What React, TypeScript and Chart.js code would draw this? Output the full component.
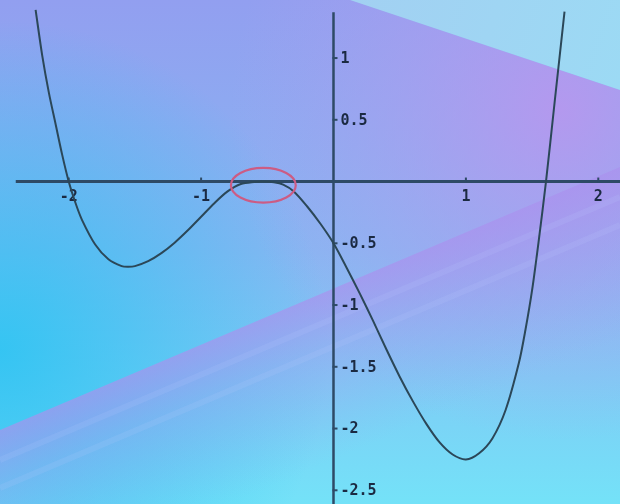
import React, { useEffect, useRef } from "react";
import { Chart, registerables } from "chart.js";

Chart.register(...registerables);

// ---- data ----
const curveX = [
  -2.25, -2.2, -2.15, -2.1, -2.05, -2.0, -1.95, -1.9, -1.8, -1.7, -1.6, -1.55,
  -1.5, -1.4, -1.3, -1.2, -1.1, -1.0, -0.9, -0.8, -0.7, -0.6, -0.53, -0.45,
  -0.38, -0.3, -0.2, -0.1, 0, 0.1, 0.2, 0.3, 0.4, 0.5, 0.6, 0.7, 0.8, 0.9, 1.0,
  1.1, 1.2, 1.3, 1.4, 1.45, 1.5, 1.55, 1.605, 1.67, 1.745,
];
const curveY = [
  1.39, 1.02, 0.72, 0.47, 0.22, 0, -0.17, -0.31, -0.51, -0.63, -0.685, -0.69,
  -0.685, -0.645, -0.58, -0.495, -0.395, -0.285, -0.175, -0.08, -0.02, -0.003,
  0, -0.006, -0.025, -0.08, -0.2, -0.34, -0.5, -0.7, -0.91, -1.13, -1.36,
  -1.58, -1.78, -1.96, -2.11, -2.21, -2.25, -2.2, -2.08, -1.85, -1.47, -1.2,
  -0.88, -0.48, 0, 0.64, 1.375,
];
const xTickValues = [-2, -1, 1, 2];
const xTickLabels = ["-2", "-1", "1", "2"];
const yTickValues = [1, 0.5, -0.5, -1, -1.5, -2, -2.5];
const yTickLabels = ["1", "0.5", "-0.5", "-1", "-1.5", "-2", "-2.5"];
const xRange = [-2.519, 2.164];
const yRange = [-2.611, 1.47];
const xAxisFrom = -2.4;
const yAxisTop = 1.37;
const markCenter = [-0.53, -0.03];
const markRadii = [0.245, 0.14];

const AXIS_COLOR = "#2e4a66";
const CURVE_COLOR = "#2b4758";
const LABEL_COLOR = "#1b2a42";
const LABEL_FONT = "'DejaVu Sans Mono', monospace";

const backgroundPlugin = {
  id: "slideBackground",
  beforeDraw(chart: any) {
    const { ctx, width: w, height: h } = chart;
    ctx.save();
    const base = ctx.createLinearGradient(0, 0, 0, h);
    base.addColorStop(0, "#929ff0");
    base.addColorStop(0.5, "#88b6f2");
    base.addColorStop(1, "#74e2f8");
    ctx.fillStyle = base;
    ctx.fillRect(0, 0, w, h);

    const glow = ctx.createRadialGradient(0, 350, 0, 0, 350, 330);
    glow.addColorStop(0, "rgba(40,196,242,0.85)");
    glow.addColorStop(1, "rgba(40,196,242,0)");
    ctx.fillStyle = glow;
    ctx.fillRect(0, 0, w, h);

    // upper band (below line from (350,0) to (620,90)), fading radially
    ctx.save();
    ctx.beginPath();
    ctx.moveTo(350, 0);
    ctx.lineTo(w, 90);
    ctx.lineTo(w, h);
    ctx.lineTo(0, h);
    ctx.lineTo(0, 0);
    ctx.closePath();
    ctx.clip();
    const g1 = ctx.createRadialGradient(560, 110, 0, 560, 110, 330);
    g1.addColorStop(0, "rgba(186,150,238,0.85)");
    g1.addColorStop(0.45, "rgba(182,154,238,0.45)");
    g1.addColorStop(1, "rgba(176,160,238,0)");
    ctx.fillStyle = g1;
    ctx.fillRect(0, 0, w, h);
    ctx.restore();

    // light wedge top right
    const g2 = ctx.createLinearGradient(350, 0, w, 90);
    g2.addColorStop(0, "#a2d0f2");
    g2.addColorStop(1, "#9cdaf4");
    ctx.fillStyle = g2;
    ctx.beginPath();
    ctx.moveTo(350, 0);
    ctx.lineTo(w, 0);
    ctx.lineTo(w, 90);
    ctx.closePath();
    ctx.fill();

    // lower band (below line from (0,430) to (620,167))
    const g3 = ctx.createLinearGradient(310, 298, 372, 444);
    g3.addColorStop(0, "rgba(170,145,238,0.7)");
    g3.addColorStop(0.3, "rgba(165,150,238,0.42)");
    g3.addColorStop(1, "rgba(150,165,240,0)");
    ctx.fillStyle = g3;
    ctx.beginPath();
    ctx.moveTo(0, 430);
    ctx.lineTo(w, 167);
    ctx.lineTo(w, h);
    ctx.lineTo(0, h);
    ctx.closePath();
    ctx.fill();

    ctx.strokeStyle = "rgba(190,205,255,0.14)";
    ctx.lineWidth = 6;
    [30, 58].forEach((off) => {
      ctx.beginPath();
      ctx.moveTo(0, 430 + off);
      ctx.lineTo(w, 167 + off);
      ctx.stroke();
    });
    ctx.restore();
  },
  beforeDatasetsDraw(chart: any) {
    const { ctx, chartArea, scales } = chart;
    const sx = scales.x;
    const sy = scales.y;
    const x0 = sx.getPixelForValue(0);
    const y0 = sy.getPixelForValue(0);
    ctx.save();
    ctx.strokeStyle = AXIS_COLOR;
    ctx.lineWidth = 3;
    ctx.beginPath();
    ctx.moveTo(sx.getPixelForValue(xAxisFrom), y0);
    ctx.lineTo(chartArea.right, y0);
    ctx.stroke();
    ctx.lineWidth = 2.5;
    ctx.beginPath();
    ctx.moveTo(x0, sy.getPixelForValue(yAxisTop));
    ctx.lineTo(x0, chartArea.bottom);
    ctx.stroke();
    ctx.lineWidth = 2;
    xTickValues.forEach((v) => {
      const px = sx.getPixelForValue(v);
      ctx.beginPath();
      ctx.moveTo(px, y0 - 4);
      ctx.lineTo(px, y0 + 1);
      ctx.stroke();
    });
    yTickValues.forEach((v) => {
      const py = sy.getPixelForValue(v);
      ctx.beginPath();
      ctx.moveTo(x0 - 1, py);
      ctx.lineTo(x0 + 4, py);
      ctx.stroke();
    });
    ctx.restore();
  },
  afterDatasetsDraw(chart: any) {
    const { ctx, scales } = chart;
    const sx = scales.x;
    const sy = scales.y;
    const cx = sx.getPixelForValue(markCenter[0]);
    const cy = sy.getPixelForValue(markCenter[1]);
    const rx = Math.abs(sx.getPixelForValue(markCenter[0] + markRadii[0]) - cx);
    const ry = Math.abs(sy.getPixelForValue(markCenter[1] + markRadii[1]) - cy);
    ctx.save();
    ctx.strokeStyle = "#cc5c84";
    ctx.lineWidth = 2.2;
    ctx.beginPath();
    ctx.ellipse(cx, cy, rx, ry, 0, 0, Math.PI * 2);
    ctx.stroke();

    ctx.font = `bold 15px ${LABEL_FONT}`;
    ctx.fillStyle = LABEL_COLOR;
    ctx.textAlign = "left";
    ctx.textBaseline = "middle";
    const x0 = sx.getPixelForValue(0);
    yTickValues.forEach((v, i) => {
      ctx.fillText(yTickLabels[i], x0 + 7, sy.getPixelForValue(v) + 1);
    });
    ctx.restore();
  },
};

export default function App() {
  const ref = useRef<HTMLCanvasElement | null>(null);
  useEffect(() => {
    if (!ref.current) return;
    const chart = new Chart(ref.current, {
      type: "scatter",
      data: {
        datasets: [
          {
            data: curveX.map((x, i) => ({ x, y: curveY[i] })),
            showLine: true,
            borderColor: CURVE_COLOR,
            borderWidth: 2,
            pointRadius: 0,
            tension: 0.3,
            fill: false,
          },
        ],
      },
      options: {
        animation: false,
        responsive: false,
        devicePixelRatio: 1,
        layout: { padding: 0 },
        plugins: { legend: { display: false }, tooltip: { enabled: false } },
        scales: {
          x: {
            type: "linear",
            min: xRange[0],
            max: xRange[1],
            position: { y: 0 },
            grid: { display: false, drawTicks: false },
            border: { display: false },
            afterBuildTicks: (scale: any) => {
              scale.ticks = xTickValues.map((v) => ({ value: v }));
            },
            ticks: {
              padding: 7,
              color: LABEL_COLOR,
              font: { family: LABEL_FONT, size: 15, weight: "bold" },
              maxRotation: 0,
              autoSkip: false,
              callback: (_v: any, i: number) => xTickLabels[i],
            },
          },
          y: {
            type: "linear",
            min: yRange[0],
            max: yRange[1],
            position: { x: 0 },
            grid: { display: false, drawTicks: false },
            border: { display: false },
            ticks: { display: false },
          },
        },
      },
      plugins: [backgroundPlugin],
    } as any);
    return () => chart.destroy();
  }, []);
  return (
    <div style={{ position: "absolute", left: 0, top: 0, width: 620, height: 504 }}>
      <canvas ref={ref} width={620} height={504} style={{ display: "block" }} />
    </div>
  );
}
